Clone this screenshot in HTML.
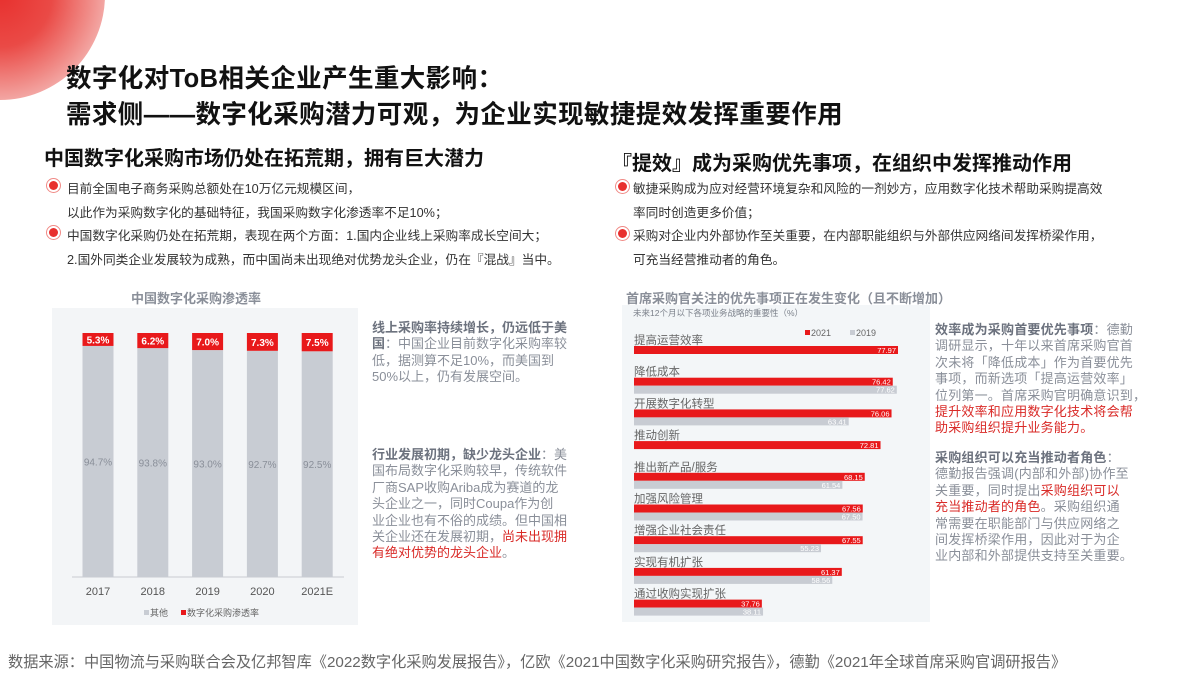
<!DOCTYPE html>
<html><head><meta charset="utf-8">
<style>
body{margin:0;width:1200px;height:675px;overflow:hidden;background:#fff;font-family:"Liberation Sans","Noto Sans CJK SC",sans-serif;position:relative;color:#222}
.abs{position:absolute;white-space:nowrap}
.decowrap{position:absolute;left:0;top:0;width:110px;height:110px;overflow:hidden}
.deco{position:absolute;left:-105px;top:-110px;width:210px;height:210px;border-radius:50%;background:radial-gradient(circle,#e8302e 0%,#ea4a46 35%,#f08a86 60%,#f6c4c2 82%,#fbe3e2 100%)}
.title{left:66px;font-size:25.5px;font-weight:bold;color:#111;letter-spacing:0.4px}
.sub{font-size:20px;font-weight:bold;color:#111}
.b{font-size:12.7px;color:#333}
.dot{position:absolute;width:9px;height:9px;border-radius:50%;background:#e8302e;box-shadow:0 0 0 2px #fff,0 0 0 3px #f08a86}
.txt{position:absolute;font-size:13px;line-height:16.4px;color:#8a8f99;white-space:nowrap}
.txt b{color:#6c727e}
.red{color:#d92a27}
.ct{font-size:13px;font-weight:bold;color:#8a8f99}
</style></head><body>
<div class="decowrap"><div class="deco"></div></div>
<div class="abs title" style="top:58px">数字化对ToB相关企业产生重大影响：</div>
<div class="abs title" style="top:94px">需求侧——数字化采购潜力可观，为企业实现敏捷提效发挥重要作用</div>

<div class="abs sub" style="left:44px;top:142px">中国数字化采购市场仍处在拓荒期，拥有巨大潜力</div>
<div class="dot" style="left:49px;top:181px"></div>
<div class="abs b" style="left:67px;top:178px">目前全国电子商务采购总额处在10万亿元规模区间，</div>
<div class="abs b" style="left:67px;top:202px">以此作为采购数字化的基础特征，我国采购数字化渗透率不足10%；</div>
<div class="dot" style="left:49px;top:228px"></div>
<div class="abs b" style="left:67px;top:225px">中国数字化采购仍处在拓荒期，表现在两个方面：1.国内企业线上采购率成长空间大；</div>
<div class="abs b" style="left:67px;top:249px">2.国外同类企业发展较为成熟，而中国尚未出现绝对优势龙头企业，仍在『混战』当中。</div>

<div class="abs sub" style="left:612px;top:147px">『提效』成为采购优先事项，在组织中发挥推动作用</div>
<div class="dot" style="left:618px;top:182px"></div>
<div class="abs b" style="left:633px;top:178px">敏捷采购成为应对经营环境复杂和风险的一剂妙方，应用数字化技术帮助采购提高效</div>
<div class="abs b" style="left:633px;top:202px">率同时创造更多价值；</div>
<div class="dot" style="left:618px;top:229px"></div>
<div class="abs b" style="left:633px;top:225px">采购对企业内外部协作至关重要，在内部职能组织与外部供应网络间发挥桥梁作用，</div>
<div class="abs b" style="left:633px;top:249px">可充当经营推动者的角色。</div>

<div class="abs ct" style="left:131px;top:288px">中国数字化采购渗透率</div>
<svg class="abs" style="left:0;top:0" width="1200" height="675">
<rect x="52" y="308" width="306" height="317" fill="#f3f5f7"/>
<line x1="72" y1="577" x2="344" y2="577" stroke="#c9ccd2"/>
<g id="lc"></g>
<rect x="622" y="305" width="308" height="317" fill="#f3f6f8"/>
<text x="633" y="316" font-size="8.5" fill="#7b808a">未来12个月以下各项业务战略的重要性（%）</text>
<rect x="805" y="330" width="5" height="5" fill="#e8191b"/>
<text x="811" y="336" font-size="9" fill="#666">2021</text>
<rect x="850" y="330" width="5" height="5" fill="#c8ccd3"/>
<text x="856" y="336" font-size="9" fill="#666">2019</text>
<g id="rc"></g>
</svg>
<div class="abs ct" style="left:626px;top:288px">首席采购官关注的优先事项正在发生变化（且不断增加）</div>

<div class="txt" style="left:372px;top:320px"><b>线上采购率持续增长，仍远低于美</b><br><b>国</b>：中国企业目前数字化采购率较<br>低，据测算不足10%，而美国到<br>50%以上，仍有发展空间。</div>
<div class="txt" style="left:372px;top:447px"><b>行业发展初期，缺少龙头企业</b>：美<br>国布局数字化采购较早，传统软件<br>厂商SAP收购Ariba成为赛道的龙<br>头企业之一，同时Coupa作为创<br>业企业也有不俗的成绩。但中国相<br>关企业还在发展初期，<span class="red">尚未出现拥</span><br><span class="red">有绝对优势的龙头企业</span>。</div>
<div class="txt" style="left:935px;top:322px;letter-spacing:0.2px"><b>效率成为采购首要优先事项</b>：德勤<br>调研显示，十年以来首席采购官首<br>次未将「降低成本」作为首要优先<br>事项，而新选项「提高运营效率」<br>位列第一。首席采购官明确意识到，<br><span class="red">提升效率和应用数字化技术将会帮</span><br><span class="red">助采购组织提升业务能力。</span></div>
<div class="txt" style="left:935px;top:450px;letter-spacing:0.2px"><b>采购组织可以充当推动者角色</b>：<br>德勤报告强调(内部和外部)协作至<br>关重要，同时提出<span class="red">采购组织可以</span><br><span class="red">充当推动者的角色</span>。采购组织通<br>常需要在职能部门与供应网络之<br>间发挥桥梁作用，因此对于为企<br>业内部和外部提供支持至关重要。</div>

<div class="abs" style="left:8px;top:650px;font-size:15.2px;color:#666">数据来源：中国物流与采购联合会及亿邦智库《2022数字化采购发展报告》，亿欧《2021中国数字化采购研究报告》，德勤《2021年全球首席采购官调研报告》</div>

<script>
const years=["2017","2018","2019","2020","2021E"];
const rateVals=[5.3,6.2,7.0,7.3,7.5];
const otherVals=[94.7,93.8,93.0,92.7,92.5];
const items=["提高运营效率","降低成本","开展数字化转型","推动创新","推出新产品/服务","加强风险管理","增强企业社会责任","实现有机扩张","通过收购实现扩张"];
const v2021=[77.97,76.42,76.06,72.81,68.15,67.56,67.55,61.37,37.76];
const v2019=[null,77.62,63.41,null,61.54,67.5,55.23,58.56,38.11];
const NS="http://www.w3.org/2000/svg";
function mk(t,a,p){const e=document.createElementNS(NS,t);for(const k in a)e.setAttribute(k,a[k]);p.appendChild(e);return e;}
const lc=document.getElementById('lc');
const top0=333,base=577,H=base-top0;
const xC=i=>98+i*54.8, yS=v=>v/100*H;
years.forEach((y,i)=>{
  const cx=xC(i),w=31;
  const rh=yS(rateVals[i]), oh=yS(otherVals[i]);
  const o=mk('rect',{x:cx-w/2,y:base-oh,width:w,height:oh,fill:'#c8ccd3'},lc);
  
  
  const r=mk('rect',{x:cx-w/2,y:base-oh-rh,width:w,height:rh,fill:'#e8191b'},lc);
  
  
  const rt=mk('text',{x:cx,y:base-oh-rh/2+4,'font-size':10,fill:'#fff','text-anchor':'middle','font-weight':'bold'},lc);rt.textContent=rateVals[i].toFixed(1)+'%';
  
  
  const ot=mk('text',{x:cx,y:base-oh/2+4,'font-size':10,fill:'#8a8f99','text-anchor':'middle'},lc);ot.textContent=otherVals[i].toFixed(1)+'%';
  
  
  const yt=mk('text',{x:cx,y:595,'font-size':11,fill:'#555','text-anchor':'middle'},lc);yt.textContent=y;
  
  
});
const lg1=mk('rect',{x:144,y:610,width:5,height:5,fill:'#c8ccd3'},lc);


const lt1=mk('text',{x:150,y:616,'font-size':9,fill:'#666'},lc);lt1.textContent='其他';


const lg2=mk('rect',{x:181,y:610,width:5,height:5,fill:'#e8191b'},lc);


const lt2=mk('text',{x:187,y:616,'font-size':9,fill:'#666'},lc);lt2.textContent='数字化采购渗透率';


const rc=document.getElementById('rc');
const x0=634, sx=v=>v*264/77.97, rowY=i=>346+i*31.7;
items.forEach((n,i)=>{
  const y=rowY(i);
  const lb=mk('text',{x:x0,y:y-2,'font-size':11.5,fill:'#666'},rc);lb.textContent=n;
  
  
  const r=mk('rect',{x:x0,y:y,width:sx(v2021[i]),height:8,fill:'#e8191b'},rc);
  
  
  const rt=mk('text',{x:x0+sx(v2021[i])-2,y:y+7,'font-size':7.5,fill:'#fff','text-anchor':'end'},rc);rt.textContent=v2021[i].toFixed(2);
  
  
  if(v2019[i]!=null){
    const g=mk('rect',{x:x0,y:y+8,width:sx(v2019[i]),height:8,fill:'#c8ccd3'},rc);
    
    
    const gt=mk('text',{x:x0+sx(v2019[i])-2,y:y+15,'font-size':7.5,fill:'#fff','text-anchor':'end'},rc);gt.textContent=v2019[i].toFixed(2);
    
    
  }
});
</script>
</body></html>
